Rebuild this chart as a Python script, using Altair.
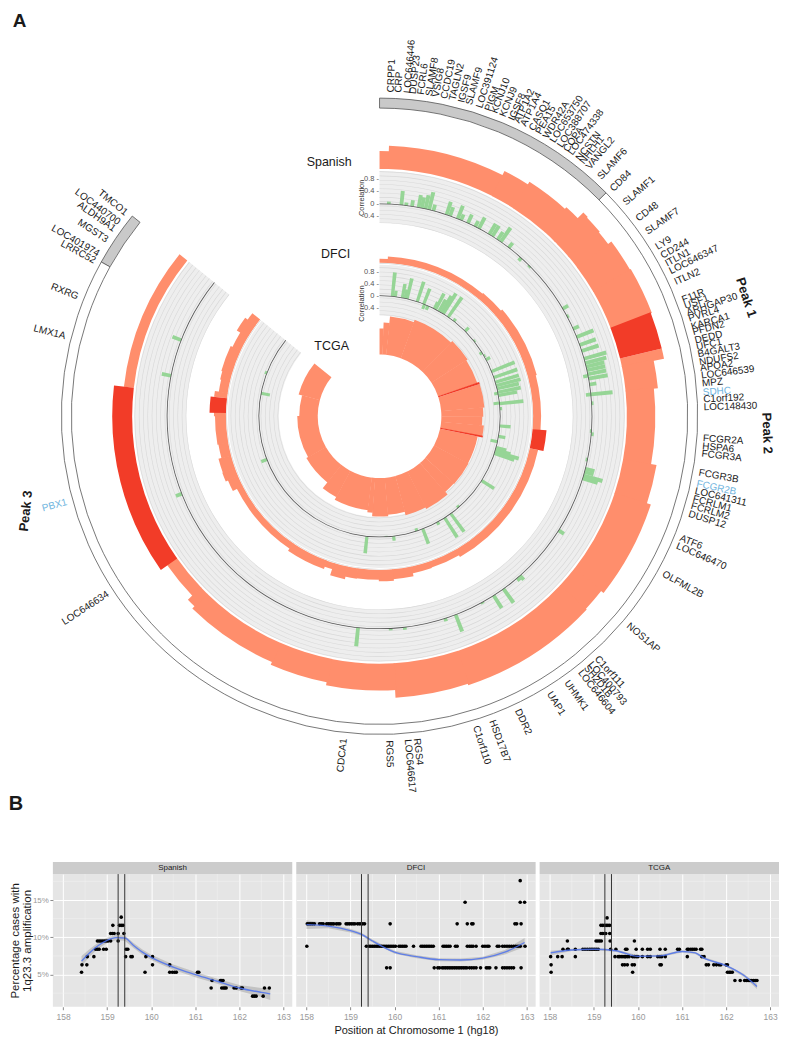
import math
import altair as alt
import pandas as pd

FONT = "Liberation Sans"
ORIGIN_X, ORIGIN_Y = 53, 8          # page position of the top panel's origin
SALMON, RED, GREEN = "#FF8E6C", "#F23C28", "#96D596"

# ---------- circular panel data ----------
SP_EDGES = [0,2,27,32.6,41.8,45,46,49.8,53,59.6,69,76.5,78.3,84,100,108,128,133,161.5,176.5,191,203.4,224,226,234.9,276.6,309]
SP_OUTER = [266,271.5,276,279,281,289,288,287,291,292,291,291,280.5,276.5,282,286,283,284,282.6,275,272,269,266,260,268,258]
SP_PEAKS = [(69,76.5),(234.9,276.6)]

DF_EDGES = [0,3,40,49,75,94.8,102,150,161,168,175,180,188,192,197,200,214,243,247,250,255,260,270,271.2,276.7,278.5,283,286,295,301,306,309]
DF_OUTER = [158,160.5,161.5,163,162,168,162.5,160.5,161,164,165.5,164,164.5,167,160.5,163,160.5,165,167.5,167,164,165,166,170.5,167,163,164,165,163,167,164]
DF_PEAKS = [(94.8,102),(271.2,276.7)]

TC_EDGES = [0,2.5,6,20,44,57,71,72.2,85,90,95,100.7,101.7,118,132,139,153,165,175,184,187,208,218,240,270,285,309]
TC_OUTER = [88,94,100.5,103,105,103.5,105.5,105.5,104,103,105,105.5,100.5,101,100.5,104,102.5,99,100.5,97,95,92,84.5,82.5,80.5,84]
TC_PEAKS = [(71,72.2),(100.7,101.7)]

SP_CORR_ANGLE = [2.5,5.9,7.2,8.8,10.6,11.5,12.5,13.5,14.7,18.4,19.4,21.6,22.6,24.6,26.8,27.9,31.1,32.1,33.8,34.8,37.5,41.8,45,59.6,62,65.7,68.1,70.4,72.1,74.3,75.5,76.5,77.5,78.6,79,79.8,81.4,84.1,84.1,86.5,94,94.8,101.8,104.3,105.2,106.2,107,122.5,138.6,139.5,144.3,147.5,151.1,159,162,173.2,177,185.8,248.6,281,291]
SP_CORR_VALUE = [0.08,0.45,0.1,0.2,0.4,0.35,0.45,0.58,0.2,0.43,0.3,0.45,0.2,0.3,0.2,0.4,0.4,0.4,0.3,0.55,0.2,-0.12,-0.06,0.2,0.06,0.2,0.58,0.55,0.57,0.74,0.7,0.6,0.6,0.6,-0.16,0.62,0.22,0.7,-0.16,0.06,-0.05,0.08,-0.06,0.3,0.3,0.63,0.5,0.2,0.18,0.12,0.55,0.48,0.05,0.58,0.1,0.08,0.06,0.6,0.2,0.3,0.3]
DF_CORR_ANGLE = [6.1,7.5,10.9,12.2,13.2,18.2,21.5,21.9,23.7,27,27.7,29.5,30.8,31.9,34.7,38,45.2,51.5,58.2,60,62,68.2,71.2,73.6,75.3,76.8,78.5,79,80,83.7,84,86.4,94.6,99.6,102.2,105,106.1,106.9,108,122.2,139,143.8,147.3,151.3,159,162,173.3,176.9,186,249,281,291]
DF_CORR_VALUE = [0.8,0.2,0.47,0.3,0.7,0.7,0.55,-0.17,-0.15,0.25,0.6,0.45,0.65,0.8,0.8,0.1,0.17,0.05,-0.1,0.05,0.15,0.83,0.83,0.82,0.84,0.75,0.78,-0.13,0.63,-0.2,0.8,0.07,0.36,0.23,-0.24,0.35,0.52,0.83,0.7,0.49,-0.08,0.75,0.77,0.1,0.53,-0.1,0.15,-0.03,0.57,0.2,-0.3,0.07]

GENES_RIGHT = ["CRPP1","CRP","LOC646446","DUSP23","FCRL6","SLAMF8","VSIG8","CCDC19","TAGLN2","IGSF9","SLAMF9","LOC391124","PIGM","KCNJ10","KCNJ9","IGSF8","ATP1A2","ATP1A4","CASQ1","PEA15","WDR42A","LOC653750","LOC388707","COPA","LOC474338","NCSTN","NHLH1","VANGL2","SLAMF6","CD84","SLAMF1","CD48","SLAMF7","LY9","CD244","ITLN1","LOC646347","ITLN2","F11R","USF1","ARHGAP30","PVRL4","KARCA1","PFDN2","DEDD","UFC1","B4GALT3","NDUFS2","APOA2","LOC646539","MPZ","SDHC","C1orf192","LOC148430","FCGR2A","HSPA6","FCGR3A","FCGR3B","FCGR2B","LOC641311","FCRLM1","FCRLM2","DUSP12","ATF6","LOC646470","OLFML2B","NOS1AP","C1orf111","LOC400793","SH2D1B","LOC646604","UHMK1","UAP1","DDR2","HSD17B7","C1orf110","RGS4","LOC646617","RGS5"]
ANGLES_RIGHT = [2,3.3,4.9,5.9,7.3,8.8,10,11.5,13,14.6,16,17.9,19.5,20.7,22.3,24,25,26.3,28,29.3,30.8,32.2,33.7,35,36,37.7,38.6,40,42.7,45.7,49,52.6,55.4,58.6,60.4,62,63.5,65.6,69,70.2,71.4,72.5,74,75,76.5,77.7,79,80.4,81.5,82.8,84.2,85.8,87,88.4,93.9,95.3,96.6,100,102,103.3,104.7,106,107.5,112,113.5,119,130,138,139.5,140.5,141.8,144.8,148.4,154.8,159.7,162.7,173.4,175,178.3]
GENES_LEFT = ["CDCA1","LOC646634","PBX1","LMX1A","RXRG","LRRC52","LOC401974","MGST3","ALDH9A1","LOC440700","TMCO1"]
ANGLES_LEFT = [186.3,236.9,254.7,284.3,291.6,298.6,300,302.9,305.2,306.6,308.7]
BLUE_GENES = ["SDHC","FCGR2B","PBX1"]

RING_SPANS = [(0,45.4,"#C9C9C9"),(45.4,299,"#FFFFFF"),(299,309,"#C9C9C9")]
SP_BASE, DF_BASE = 213, 121
TRACK_OFFSETS = [-19,-15,-10.7,-6.4,-2.1,2.2,6.5,10.8,15.1,19.4,23.7,28,32.3]
AXIS_TICKS = [0.8,0.4,0,-0.4]
AXIS_NAMES = ["0.8","0.4","0","-0.4"]

# ---------- lower panel data ----------
SPANISH_POINTS = {
 12.7:[159.32],
 11.6:[159.13,159.28,159.32,159.36],
 10.5:[159.08,159.12,159.16,159.25,159.38],
 9.5:[158.78,158.82,158.86,158.9,158.94,158.98,159.02,159.08,159.25],
 8.4:[158.74,158.78,158.82,158.92,158.98,159.43,159.47],
 7.4:[158.55,158.7,159.42,159.54,159.57,159.88,160.03],
 6.3:[158.43,158.54,160.03,160.42],
 5.3:[158.42,159.86,160.42,160.48,160.53,160.57,161.05,161.08],
 4.2:[161.38,161.57,161.6,161.63],
 3.2:[161.36,161.6,161.64,161.67,161.7,161.88,161.93,162.04,162.07,162.57,162.68],
 2.1:[162.3,162.34,162.38,162.54],
}
DFCI_POINTS = {
 17.6:[162.85],
 14.7:[161.6,162.85,162.95],
 11.8:[158.02,158.06,158.1,158.14,158.18,158.3,158.34,158.38,158.46,158.5,158.54,158.58,158.62,158.68,158.72,158.76,158.9,158.94,158.98,159.02,159.06,159.1,159.16,159.2,159.24,159.28,159.32,159.9,161.42,161.65,161.75,161.78,162.73,162.77,162.87],
 8.8:[158.01,159.36,159.42,159.46,159.5,159.54,159.58,159.62,159.66,159.7,159.74,159.78,159.82,159.86,159.9,159.94,159.98,160.02,160.1,160.14,160.18,160.22,160.26,160.43,160.6,160.64,160.68,160.72,160.76,160.8,160.84,160.88,161.1,161.14,161.18,161.22,161.26,161.38,161.42,161.65,161.7,161.74,161.78,161.85,162.0,162.05,162.1,162.14,162.33,162.37,162.45,162.5,162.55,162.6,162.65,162.7,162.75,162.8,162.85,162.96],
 5.9:[159.82,159.9,160.9,160.98,161.02,161.08,161.12,161.16,161.2,161.24,161.28,161.32,161.36,161.4,161.44,161.48,161.52,161.56,161.6,161.64,161.7,161.75,161.8,161.85,161.95,162.08,162.12,162.16,162.3,162.45,162.5,162.55,162.6,162.65,162.7,162.87],
}
TCGA_POINTS = {
 12.6:[159.3],
 11.6:[159.16,159.2,159.24,159.28,159.32,159.36],
 10.5:[159.16,159.2,159.24,159.27,159.36],
 9.5:[158.4,159.05,159.09,159.13,159.17,159.37,159.92],
 8.4:[158.3,158.4,158.42,158.58,158.75,158.8,158.85,158.9,158.94,158.98,159.02,159.06,159.1,159.38,159.5,159.72,159.75,159.96,160.1,160.22,160.28,160.5,160.62,160.9,160.94,161.12,161.15,161.2,161.24,161.28,161.32,161.42,161.45],
 7.4:[158.02,158.18,158.28,158.58,159.48,159.55,159.58,159.62,159.66,159.7,159.72,159.76,159.8,159.88,159.92,159.96,160.0,160.1,160.22,160.28,160.45,160.5,160.54,160.62,161.12,161.45,161.5],
 6.3:[158.03,159.65,159.7,159.76,159.87,159.92,160.5,160.53,161.55,161.6,161.72,161.78,161.84,161.88,162.0,162.03],
 5.3:[158.03,159.88,162.03,162.07,162.1,162.14],
 4.2:[162.2,162.32,162.42,162.46,162.5,162.54,162.58,162.62,162.66,162.7],
}
SPANISH_FIT_X = [158.42,158.6,158.8,159,159.2,159.4,159.6,159.8,160,160.5,161,161.5,162,162.5,162.7]
SPANISH_FIT_Y = [6.8,7.9,8.9,9.6,9.95,9.9,8.9,8.0,7.3,6.0,5.0,4.1,3.2,2.6,2.4]
SPANISH_FIT_SE = [0.7,0.5,0.4,0.35,0.35,0.35,0.35,0.35,0.35,0.35,0.35,0.35,0.4,0.6,0.8]
DFCI_FIT_X = [158,158.5,159,159.25,159.5,160,160.5,161,161.5,162,162.5,162.95]
DFCI_FIT_Y = [11.7,11.5,10.9,10.4,9.5,8.0,7.4,7.0,6.95,7.2,8.0,9.3]
DFCI_FIT_SE = [0.6,0.3,0.25,0.2,0.2,0.2,0.2,0.2,0.2,0.2,0.3,0.6]
TCGA_FIT_X = [158.02,158.5,159,159.5,160,160.5,161,161.3,161.5,162,162.4,162.7]
TCGA_FIT_Y = [7.9,8.3,8.4,8.2,7.45,7.5,8.1,7.9,7.2,6.2,4.9,3.4]
TCGA_FIT_SE = [0.3,0.15,0.15,0.15,0.15,0.15,0.15,0.15,0.15,0.15,0.2,0.35]
PEAK_LINES = [159.25,159.4]
MINOR_X = [158.5,159.5,160.5,161.5,162.5]
MINOR_Y = [2.5,7.5,12.5,17.5]

# ---------- circular panel ----------
TH = alt.Scale(domain=[0,360], range=[0,2*math.pi])
RS = alt.Scale(type="linear", domain=[0,400], range=[0,400])

def arcs(rows, fill, **mark):
    df = pd.DataFrame(rows, columns=["t0","t1","r0","r1"])
    return alt.Chart(df).mark_arc(fill=fill, **mark).encode(
        theta=alt.Theta("t0:Q", scale=TH, stack=False),
        theta2=alt.Theta2("t1:Q"),
        radius=alt.Radius("r0:Q", scale=RS, stack=False),
        radius2=alt.Radius2("r1:Q"),
    )

def amp(edges, outer, base, peaks):
    rows_l, rows_d = [], []
    last = len(outer) - 1
    for i, r in enumerate(outer):
        t0, t1 = edges[i], edges[i+1]
        if any(p[0] <= t0 and t1 <= p[1] for p in peaks):
            rows_d.append((t0, t1, base, r))
        else:
            rows_l.append((t0, t1 + (0.25 if i < last else 0), base, r))
    return [arcs(rows_l, SALMON), arcs(rows_d, RED)]

def track(base, r_low, r_high, angles, values, px, w):
    out = [arcs([(0,309,r_low,r_high)], "#EEEEEE")]
    out.append(arcs([(0,309,base+o-0.3,base+o+0.3) for o in TRACK_OFFSETS], "#D8D8D8"))
    rows = []
    for a, v in zip(angles, values):
        r = base + v*px
        rows.append((a-w/2, a+w/2, min(base,r), max(base,r)))
    out.append(arcs(rows, GREEN))
    out.append(arcs([(0,309,base-0.4,base+0.4)], "#555555"))
    tick = pd.DataFrame({"t":[0]*4, "r":[base+v*px for v in AXIS_TICKS], "s":[n+" -" for n in AXIS_NAMES]})
    out.append(alt.Chart(tick).mark_text(align="right", baseline="middle", dx=-0.5, fontSize=7.5, font=FONT, color="#555555").encode(
        theta=alt.Theta("t:Q", scale=TH, stack=False), radius=alt.Radius("r:Q", scale=RS, stack=False), text="s:N"))
    return out

def gene_labels(names, angles, align, flip):
    df = pd.DataFrame({"g":names, "t":angles, "r":[325]*len(names)})
    df["a"] = [(t+90)%360 if flip else (t-90)%360 for t in angles]
    df["c"] = ["#6FB4DE" if g in BLUE_GENES else "#1a1a1a" for g in names]
    return alt.Chart(df).mark_text(align=align, baseline="middle", fontSize=10, font=FONT).encode(
        theta=alt.Theta("t:Q", scale=TH, stack=False), radius=alt.Radius("r:Q", scale=RS, stack=False),
        text="g:N", angle=alt.Angle("a:Q", scale=None), color=alt.Color("c:N", scale=None))

def note(text, x, y, size, angle=0, bold=False, color="#1a1a1a", align="center", baseline="middle"):
    df = pd.DataFrame({"s":[text], "px":[x-ORIGIN_X], "py":[y-ORIGIN_Y]})
    return alt.Chart(df).mark_text(fontSize=size, angle=angle%360, font=FONT, align=align, baseline=baseline,
                                   fontWeight="bold" if bold else "normal", color=color).encode(
        x=alt.X("px:Q", scale=None, axis=None), y=alt.Y("py:Q", scale=None, axis=None), text="s:N")

layers = []
layers.append(arcs([(a,b,309,319) for a,b,c in RING_SPANS if c != "#FFFFFF"], "#C9C9C9", stroke="#555555", strokeWidth=0.8))
layers.append(arcs([(a,b,309,319) for a,b,c in RING_SPANS if c == "#FFFFFF"], "#FFFFFF", stroke="#555555", strokeWidth=0.8))
layers += amp(SP_EDGES, SP_OUTER, 248, SP_PEAKS)
layers += track(SP_BASE, 194, 246, SP_CORR_ANGLE, SP_CORR_VALUE, 31.25, 1.0)
layers += amp(DF_EDGES, DF_OUTER, 154, DF_PEAKS)
layers += track(DF_BASE, 101, 152, DF_CORR_ANGLE, DF_CORR_VALUE, 30, 1.5)
layers += amp(TC_EDGES, TC_OUTER, 62, TC_PEAKS)
layers.append(gene_labels(GENES_RIGHT, ANGLES_RIGHT, "left", False))
layers.append(gene_labels(GENES_LEFT, ANGLES_LEFT, "right", True))
layers += [
    note("A", 19.5, 25.5, 19, bold=True, baseline="alphabetic"),
    note("B", 16, 805, 20, bold=True),
    note("Spanish", 330, 161, 12.5),
    note("DFCI", 336.5, 253, 12.5),
    note("TCGA", 332.5, 346, 12.5),
    note("Correlation", 362.5, 197, 7.5, angle=-90, color="#333333"),
    note("Correlation", 362.5, 303, 7.5, angle=-90, color="#333333"),
    note("Peak 1", 748, 297, 13, angle=72, bold=True),
    note("Peak 2", 769, 433, 13, angle=88, bold=True),
    note("Peak 3", 26, 511, 13, angle=-84, bold=True),
]
top = alt.layer(*layers).properties(width=655, height=816)

# ---------- lower panels ----------
XS = alt.Scale(domain=[157.77,163.2], nice=False, zero=False)
YS = alt.Scale(domain=[0.68,18.48], nice=False, zero=False)

def panel(name, pts, fx, fy, fse, first=False, xtitle=None):
    pdf = pd.DataFrame([(x,lv) for lv,xs in pts.items() for x in xs], columns=["x","y"])
    fit = pd.DataFrame({"x":fx,"y":fy,"lo":[a-b for a,b in zip(fy,fse)],"hi":[a+b for a,b in zip(fy,fse)]})
    xax = alt.Axis(values=[158,159,160,161,162,163], format="d", title=xtitle, labelColor="#999999", labelFontSize=8.5,
                   labelFont=FONT, tickColor="#8a8a8a", tickSize=3, domain=False, gridColor="#FFFFFF", gridWidth=1,
                   labelPadding=3, titleFont=FONT, titleFontSize=11, titleFontWeight="normal", titleColor="#1a1a1a", titlePadding=3)
    if first:
        yax = alt.Axis(values=[5,10,15], labelExpr="datum.value + '%'", title=["Percentage cases with","1q23.3 amplification"],
                       labelColor="#999999", labelFontSize=8, labelFont=FONT, tickColor="#8a8a8a", tickSize=3, domain=False,
                       gridColor="#FFFFFF", gridWidth=1, labelPadding=1.5, titleFont=FONT, titleFontSize=11.5, titleLineHeight=11.5,
                       titleFontWeight="normal", titleColor="#1a1a1a", titlePadding=0)
    else:
        yax = alt.Axis(values=[5,10,15], labels=False, ticks=False, title=None, domain=False, gridColor="#FFFFFF", gridWidth=1)
    X = alt.X("x:Q", scale=XS, axis=xax)
    minor_x = alt.Chart(pd.DataFrame({"x":MINOR_X})).mark_rule(color="#F2F2F2", strokeWidth=0.5).encode(x=X)
    minor_y = alt.Chart(pd.DataFrame({"y":MINOR_Y})).mark_rule(color="#F2F2F2", strokeWidth=0.5).encode(y=alt.Y("y:Q", scale=YS, axis=yax))
    pts_l = alt.Chart(pdf).mark_circle(size=13, color="#000000", opacity=1).encode(x=X, y=alt.Y("y:Q", scale=YS, axis=yax))
    band = alt.Chart(fit).mark_area(color="#999999", opacity=0.45).encode(x=X, y=alt.Y("lo:Q", scale=YS, axis=yax), y2="hi:Q")
    line = alt.Chart(fit).mark_line(color="#4E72EE", strokeWidth=1.4, opacity=0.85, interpolate="monotone").encode(x=X, y=alt.Y("y:Q", scale=YS, axis=yax))
    vl = alt.Chart(pd.DataFrame({"x":PEAK_LINES})).mark_rule(color="#333333", strokeWidth=1).encode(x=X)
    hdr = pd.DataFrame({"s":[name]})
    strip = alt.Chart(hdr).mark_rect(fill="#CCCCCC").encode(x=alt.value(0), x2=alt.value(240), y=alt.value(-12), y2=alt.value(0))
    label = alt.Chart(hdr).mark_text(fontSize=8, font=FONT, color="#222222", baseline="middle").encode(x=alt.value(120), y=alt.value(-6), text="s:N")
    return alt.layer(minor_x, minor_y, band, pts_l, line, vl, strip, label).properties(
        width=240, height=133, view=alt.ViewBackground(fill="#E5E5E5", stroke=None))

bottom = alt.hconcat(
    panel("Spanish", SPANISH_POINTS, SPANISH_FIT_X, SPANISH_FIT_Y, SPANISH_FIT_SE, first=True),
    panel("DFCI", DFCI_POINTS, DFCI_FIT_X, DFCI_FIT_Y, DFCI_FIT_SE, xtitle="Position at Chromosome 1 (hg18)"),
    panel("TCGA", TCGA_POINTS, TCGA_FIT_X, TCGA_FIT_Y, TCGA_FIT_SE),
    spacing=4, bounds="flush",
)

chart = alt.vconcat(top, bottom, spacing=51, bounds="flush").properties(
    padding=0, background="white").configure_view(stroke=None)
chart.save("out.html", embed_options={"renderer": "svg", "actions": False})
